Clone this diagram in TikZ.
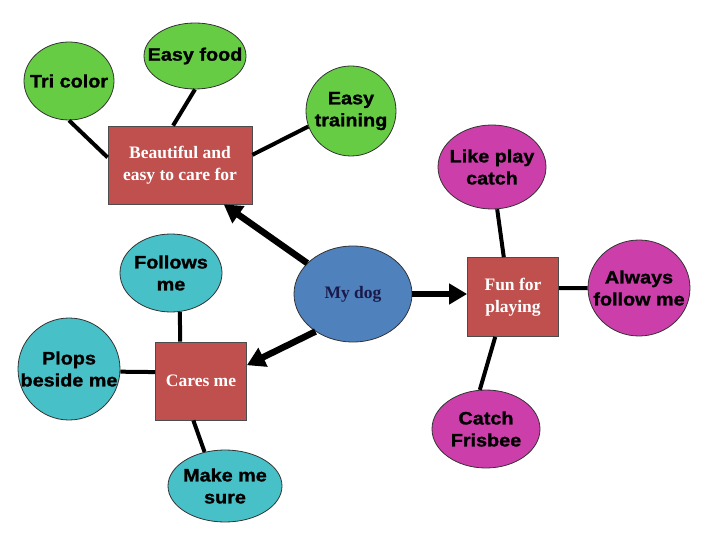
\documentclass[tikz,border=0pt]{standalone}
\usepackage{fontspec}
\setmainfont{Liberation Serif}
\newfontfamily\bubblefont{Liberation Sans}[FakeStretch=1.1, BoldFeatures={FakeBold=1.2}]
\usetikzlibrary{shapes.geometric,arrows.meta}
\definecolor{grn}{HTML}{66CC44}
\definecolor{cyn}{HTML}{48C0C8}
\definecolor{mag}{HTML}{CC3FAA}
\definecolor{boxred}{HTML}{C0504D}
\definecolor{dogblue}{HTML}{4F81BD}
\definecolor{navy}{HTML}{1A1A4A}
\tikzset{
  bubtext/.style={inner sep=0pt, align=center, text=black,
    font=\bubblefont\bfseries\fontsize{18}{22}\selectfont},
  bubble/.style={ellipse, draw=black!80, line width=0.8pt, inner sep=0pt},
  gbub/.style={bubble, fill=grn},
  cbub/.style={bubble, fill=cyn},
  mbub/.style={bubble, fill=mag},
  topic/.style={rectangle, draw=black!70, line width=0.8pt, fill=boxred, inner sep=0pt,
    align=center, text=white, font=\bfseries\fontsize{17.5}{22}\selectfont},
  link/.style={line width=4pt, black},
  bigarrow/.style={line width=6.5pt, black, -{Triangle[length=18pt,width=20pt]}}
}
\begin{document}
\begin{tikzpicture}[x=1pt,y=-1pt]
\useasboundingbox (0,0) rectangle (720,540);
% hub
\node[bubble, fill=dogblue, minimum width=118pt, minimum height=96pt,
  label={[inner sep=0pt, text=navy, font=\bfseries\fontsize{17.5}{22}\selectfont]center:My dog}] (dog) at (353,294) {};
% topic boxes
\node[topic, minimum width=144pt, minimum height=78pt] (beau) at (180,165) {Beautiful and\\easy to care for};
\node[topic, minimum width=91pt, minimum height=78pt] (cares) at (201,381) {Cares me};
\node[topic, minimum width=91pt, minimum height=79pt] (fun) at (513,297) {Fun for\\playing};
% green bubbles
\node[gbub, minimum width=90pt, minimum height=78pt, label={[bubtext]center:Tri color}] (tri) at (69,81) {};
\node[gbub, minimum width=102pt, minimum height=66pt, label={[bubtext]center:Easy food}] (food) at (195,56) {};
\node[gbub, minimum width=90pt, minimum height=90pt, label={[bubtext]center:Easy\\training}] (train) at (351,111) {};
% cyan bubbles
\node[cbub, minimum width=102pt, minimum height=78pt, label={[bubtext]center:Follows\\me}] (follows) at (171,273) {};
\node[cbub, minimum width=102pt, minimum height=102pt, label={[bubtext]center:Plops\\beside me}] (plops) at (69,369) {};
\node[cbub, minimum width=114pt, minimum height=72pt, label={[bubtext]center:Make me\\sure}] (sure) at (225,486) {};
% magenta bubbles
\node[mbub, minimum width=108pt, minimum height=84pt, label={[bubtext]center:Like play\\catch}] (like) at (492,167) {};
\node[mbub, minimum width=102pt, minimum height=96pt, label={[bubtext]center:Always\\follow me}] (always) at (639,288) {};
\node[mbub, minimum width=108pt, minimum height=78pt, label={[bubtext]center:Catch\\Frisbee}] (frisbee) at (486,429) {};
% links
\draw[link] (tri.south) -- (beau.174);
\draw[link] (food.south) -- (beau.100);
\draw[link] (train.-160) -- (beau.8);
\draw[link] (follows.-77) -- (cares.118);
\draw[link] (plops.-3) -- (cares.169);
\draw[link] (cares.-101) -- (sure.121);
\draw[link] (like.-83) -- (fun.103);
\draw[link] (fun.11) -- (always.west);
\draw[link] (fun.-114) -- (frisbee.99);
% arrows
\draw[bigarrow] (dog.146) -- (beau.-42);
\draw[bigarrow] (dog.225) -- (cares.19);
\draw[bigarrow] (dog.east) -- (dog.east -| fun.west);
\end{tikzpicture}
\end{document}
